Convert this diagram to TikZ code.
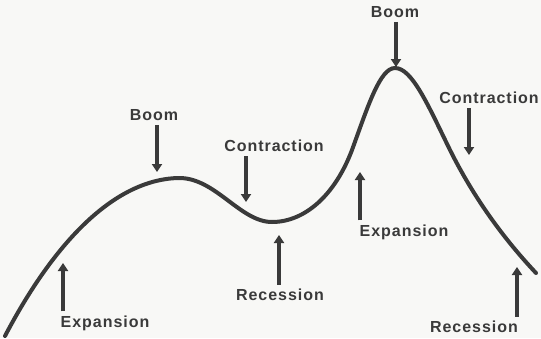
\documentclass[tikz,border=0pt]{standalone}
\usepackage{fontspec}
\setmainfont{Liberation Sans}[LetterSpace=6]
\usetikzlibrary{arrows.meta}
\definecolor{ink}{HTML}{3A3A3A}
\definecolor{paper}{HTML}{F8F8F6}

\begin{document}
\begin{tikzpicture}[x=1pt,y=-1pt,
lab/.style={font=\fontsize{16}{18}\selectfont\bfseries,text=ink,inner sep=1pt},
arr/.style={draw=ink,line width=4.5pt,shorten <=3pt,-{Triangle[width=10pt,length=8pt]}}]
\fill[paper] (0,0) rectangle (541,338);
\useasboundingbox (0,0) rectangle (541,338);
% the cycle
\draw[ink,line width=4pt,line cap=round] (5,336)
.. controls (50,250) and (110,180) .. (178,178)
.. controls (215,177) and (240,222) .. (272,222)
.. controls (305,222) and (335,195) .. (352,150)
.. controls (368,106) and (380,68) .. (395,68)
.. controls (412,68) and (428,105) .. (450,150)
.. controls (475,200) and (505,240) .. (536,273);
% labels
\node[lab] (e1) at (105,323) {Expansion};
\node[lab] (b1) at (154,115) {Boom};
\node[lab] (c1) at (274,146) {Contraction};
\node[lab] (r1) at (280,295) {Recession};
\node[lab] (e2) at (404,232) {Expansion};
\node[lab] (b2) at (395,12) {Boom};
\node[lab] (c2) at (489,98) {Contraction};
\node[lab] (r2) at (474,327) {Recession};
% arrow tips
\coordinate (t1) at (63,263);
\coordinate (t2) at (157,172);
\coordinate (t3) at (246,202);
\coordinate (t4) at (279,235);
\coordinate (t5) at (360,172);
\coordinate (t6) at (396,67);
\coordinate (t7) at (469,155);
\coordinate (t8) at (517,267);
\draw[arr] (e1.north -| t1) -- (t1);
\draw[arr] (b1.south -| t2) -- (t2);
\draw[arr] (c1.south -| t3) -- (t3);
\draw[arr] (r1.north -| t4) -- (t4);
\draw[arr] (e2.north -| t5) -- (t5);
\draw[arr] (b2.south -| t6) -- (t6);
\draw[arr] (c2.south -| t7) -- (t7);
\draw[arr] (r2.north -| t8) -- (t8);
\end{tikzpicture}
\end{document}
